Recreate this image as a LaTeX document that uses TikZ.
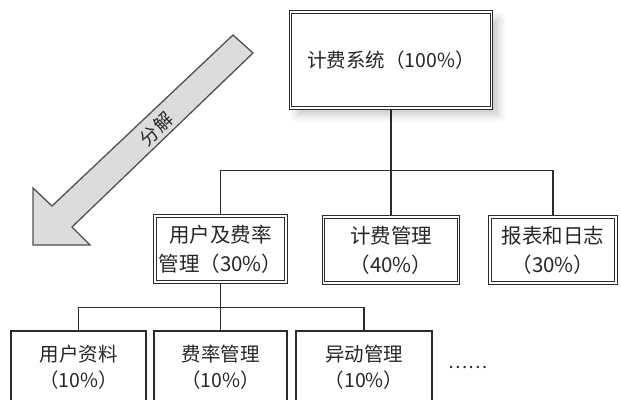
\documentclass[tikz,border=0pt]{standalone}
\usepackage{fontspec}
\newfontfamily\cjk{Noto Sans CJK SC}
\usetikzlibrary{shadows.blur,backgrounds}
\definecolor{ink}{HTML}{2B2B2B}
\definecolor{txt}{HTML}{262626}
\definecolor{arrowfill}{HTML}{DCDCDC}
\definecolor{arrowedge}{HTML}{505050}
\begin{document}
\begin{tikzpicture}[x=1pt,y=-1pt,
  dbox/.style={draw=ink, line width=1.1pt, double=white, double distance=1.6pt,
    inner sep=0pt, align=center, text=txt, fill=white,
    font=\cjk\fontsize{20.5}{29}\selectfont},
  sbox/.style={draw=ink, line width=1.3pt, inner sep=0pt, align=center,
    text=txt, fill=white, font=\cjk\fontsize{19.5}{26}\selectfont},
  link/.style={draw=ink, line width=1.1pt},
  bigarrow/.style={fill=arrowfill, draw=arrowedge, line width=1.3pt, line join=miter}]
\useasboundingbox (0,0) rectangle (621,399);
\clip (0,0) rectangle (621,399);

% decomposition arrow
\draw[bigarrow] (33,245) -- (33,188) -- (52,206) -- (233,35) -- (253,53)
  -- (72,227) -- (90,245) -- cycle;
\node[rotate=43.5, text=txt, font=\cjk\fontsize{18.5}{18.5}\selectfont] (lbl) at (156,129) {分\kern1pt 解};

% top
\node[dbox, minimum width=201pt, minimum height=96pt,
  font=\cjk\fontsize{19.5}{29}\selectfont,
  blur shadow={shadow xshift=7pt, shadow yshift=-7pt, shadow blur radius=8pt, shadow opacity=22}]
  (top) at (391,60) {计费系统（100\%）};

% middle row
\node[dbox, minimum width=131pt, minimum height=66pt] (m1) at (220.5,249) {用户及费率\\管理（30\%）};
\node[dbox, minimum width=135pt, minimum height=66pt] (m2) at (391,250) {计费管理\\（40\%）};
\node[dbox, minimum width=126pt, minimum height=66pt] (m3) at (553,250) {报表和日志\\（30\%）};

% bottom row
\node[sbox, minimum width=135pt, minimum height=73pt] (b1) at (78.5,367.5) {用户资料\\（10\%）};
\node[sbox, minimum width=133pt, minimum height=73pt] (b2) at (220.5,367.5) {费率管理\\（10\%）};
\node[sbox, minimum width=136pt, minimum height=73pt] (b3) at (364,367.5) {异动管理\\（10\%）};
\node[text=txt, font=\cjk\fontsize{18}{18}\selectfont] (dots) at (468,367) {……};

% connectors
\begin{scope}[on background layer]
  \draw[link] (top.south) -- ++(0,62) coordinate (j1);
  \draw[link] (m1.north) |- (j1) -| (m3.north);
  \draw[link] (m2.north) -- (j1);
  \draw[link] (m1.south) -- ++(0,25) coordinate (j2);
  \draw[link] (b1.north) |- (j2) -| (b3.north);
  \draw[link] (b2.north) -- (j2);
\end{scope}
\end{tikzpicture}
\end{document}
